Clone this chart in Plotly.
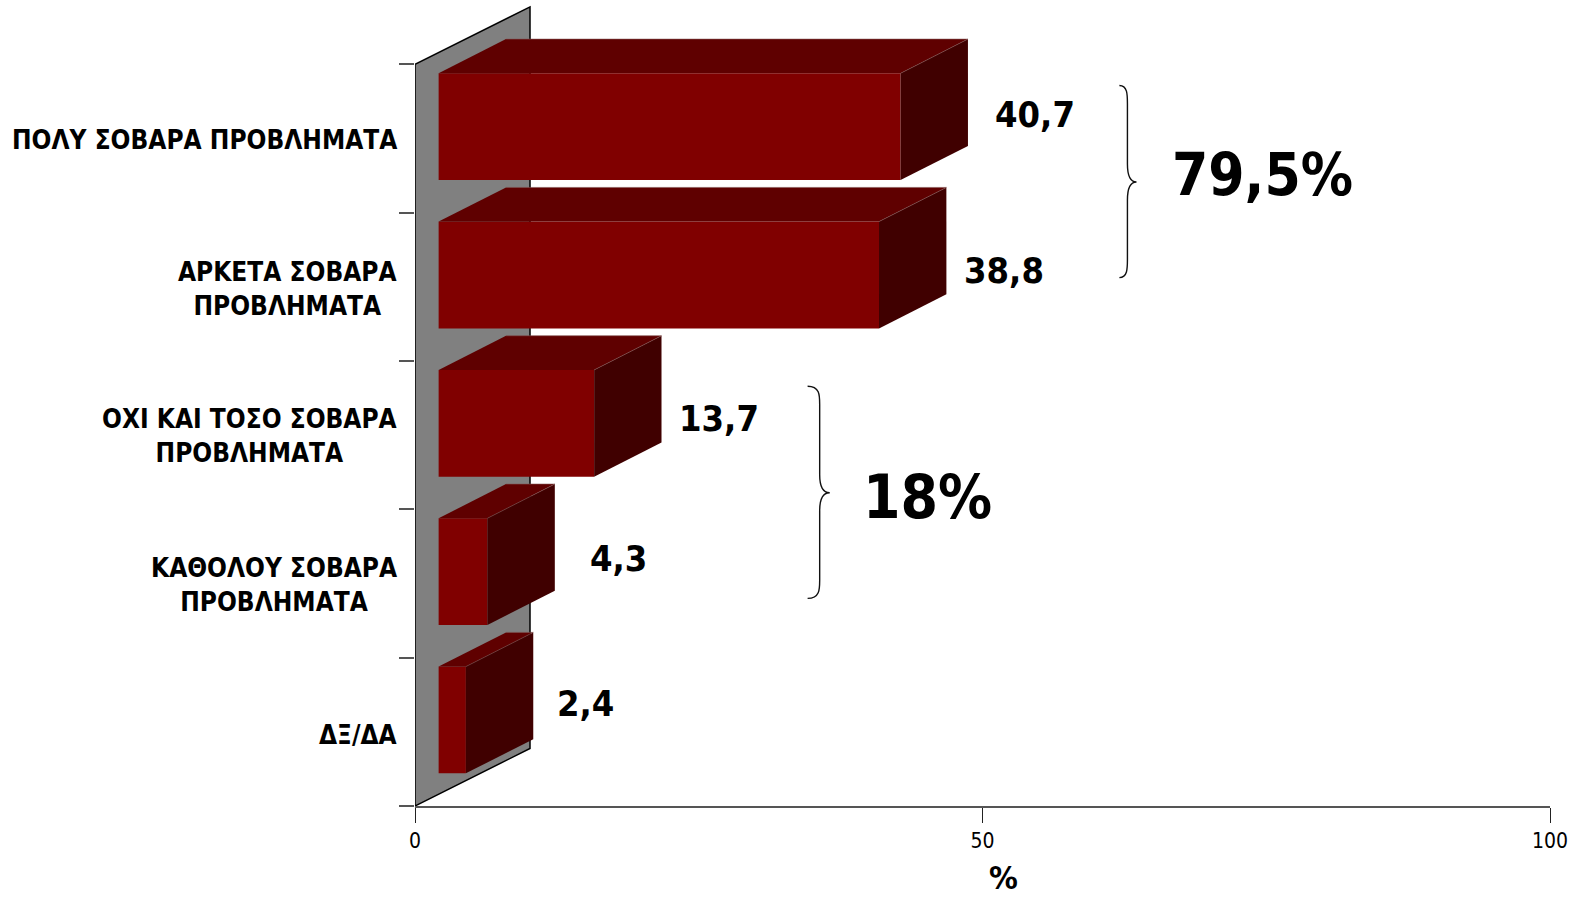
import plotly.graph_objects as go

# ---- data ----
categories = ["ΠΟΛΥ ΣΟΒΑΡΑ ΠΡΟΒΛΗΜΑΤΑ", "ΑΡΚΕΤΑ ΣΟΒΑΡΑ<br>ΠΡΟΒΛΗΜΑΤΑ", "ΟΧΙ ΚΑΙ ΤΟΣΟ ΣΟΒΑΡΑ<br>ΠΡΟΒΛΗΜΑΤΑ",
              "ΚΑΘΟΛΟΥ ΣΟΒΑΡΑ<br>ΠΡΟΒΛΗΜΑΤΑ", "ΔΞ/ΔΑ"]
values = [40.7, 38.8, 13.7, 4.3, 2.4]
value_labels = ["40,7", "38,8", "13,7", "4,3", "2,4"]
group_totals = ["79,5%", "18%"]
x_ticks = [0, 50, 100]
x_title = "%"

# ---- geometry / style ----
W, H = 1577, 897
X0, X100 = 415.0, 1550.0
Y_TOP_TICK, Y_BOTTOM = 64.4, 806.0
PLOT_TOP = 3.0
n = len(values)
band = (Y_BOTTOM - Y_TOP_TICK) / n
ux = (X100 - X0) / 100.0
y_top_range = -0.5 - (Y_TOP_TICK - PLOT_TOP) / band

def dx(p):
    return (p - X0) / ux

def dy(p):
    return -0.5 + (p - Y_TOP_TICK) / band

def paper_x(p):
    return (p - X0) / (X100 - X0)

def paper_y(p):
    return (Y_BOTTOM - p) / (Y_BOTTOM - PLOT_TOP)

S = 1577 / 1568  # reading scale of the shrunk picture

BAR_START = 23.5 * S / ux
BAR_THICK = 0.72
BAR_SHIFT = 0.08
DEPTH_X = 67 * S / ux
DEPTH_Y = 34 * S / band
WALL_X = 115 / ux
WALL_Y = 57.5 / band
FRONT, TOP, SIDE = "#800000", "#5f0000", "#400000"
EDGE = "#80504f"
BOLD = "DejaVu Sans Condensed, DejaVu Sans"

fig = go.Figure()
pos = [i - BAR_SHIFT for i in range(n)]

fig.add_trace(go.Bar(y=pos, x=values, base=[BAR_START] * n, orientation="h", width=BAR_THICK,
                     marker=dict(color=FRONT, line=dict(width=0)), showlegend=False, hoverinfo="skip"))

for v, p in zip(values, pos):
    left, right = BAR_START, BAR_START + v
    top, bottom = p - BAR_THICK / 2, p + BAR_THICK / 2
    fig.add_trace(go.Scatter(
        x=[left, right, right + DEPTH_X, left + DEPTH_X, left],
        y=[top, top, top - DEPTH_Y, top - DEPTH_Y, top],
        mode="lines", fill="toself", fillcolor=TOP, line=dict(color=TOP, width=0),
        showlegend=False, hoverinfo="skip"))
    fig.add_trace(go.Scatter(
        x=[right, right + DEPTH_X, right + DEPTH_X, right, right],
        y=[top, top - DEPTH_Y, bottom - DEPTH_Y, bottom, top],
        mode="lines", fill="toself", fillcolor=SIDE, line=dict(color=SIDE, width=0),
        showlegend=False, hoverinfo="skip"))
    fig.add_trace(go.Scatter(
        x=[left + DEPTH_X, right + DEPTH_X, right],
        y=[top - DEPTH_Y, top - DEPTH_Y, top],
        mode="lines", line=dict(color=EDGE, width=0.6),
        showlegend=False, hoverinfo="skip"))

# side wall
yt, yb = -0.5, n - 0.5
wall = f"M 0 {yb} L 0 {yt} L {WALL_X} {yt - WALL_Y} L {WALL_X} {yb - WALL_Y} Z"
shapes = [dict(type="path", path=wall, xref="x", yref="y", layer="below",
               fillcolor="#808080", line=dict(color="black", width=1.5))]

def brace(xl, xs, xt, y0, ym, y1):
    c = 9
    pts = [
        f"M {dx(xl)} {dy(y0)}",
        f"C {dx(xs)} {dy(y0)} {dx(xs)} {dy(y0 + c)} {dx(xs)} {dy(y0 + c * 2)}",
        f"L {dx(xs)} {dy(ym - c * 2)}",
        f"C {dx(xs)} {dy(ym - c)} {dx(xs + 2)} {dy(ym)} {dx(xt)} {dy(ym)}",
        f"C {dx(xs + 2)} {dy(ym)} {dx(xs)} {dy(ym + c)} {dx(xs)} {dy(ym + c * 2)}",
        f"L {dx(xs)} {dy(y1 - c * 2)}",
        f"C {dx(xs)} {dy(y1 - c)} {dx(xs)} {dy(y1)} {dx(xl)} {dy(y1)}",
    ]
    return dict(type="path", path=" ".join(pts), xref="x", yref="y",
                line=dict(color="#111111", width=1.4))

shapes.append(brace(1113 * S, 1121 * S, 1130 * S, 85 * S, 181 * S, 276 * S))
shapes.append(brace(803 * S, 815 * S, 825 * S, 384 * S, 490 * S, 595 * S))

annotations = []

def text(s, x, y, size, anchor="center"):
    annotations.append(dict(text=f"<b>{s}</b>", x=paper_x(x), y=paper_y(y), xref="paper", yref="paper",
                            xanchor=anchor, yanchor="middle", align="center", showarrow=False,
                            font=dict(family=BOLD, size=size, color="black")))

label_centers = [139, 287, 434, 582, 731]
for c, y in zip(categories, label_centers):
    text(c, 396.5 * S, y * S, 26, anchor="right")

value_centers = [(1029, 114), (998, 269), (715, 416), (615, 555), (582, 699)]
for s, (x, y) in zip(value_labels, value_centers):
    text(s, x * S, y * S, 36)

text(group_totals[0], 1255 * S, 174 * S, 58)
text(group_totals[1], 922 * S, 494 * S, 60)
text(x_title, 998 * S, 873 * S, 32)

fig.update_layout(
    width=W, height=H, margin=dict(l=X0, r=W - X100, t=PLOT_TOP, b=H - Y_BOTTOM, pad=0),
    plot_bgcolor="white", paper_bgcolor="white", showlegend=False, barmode="overlay",
    shapes=shapes, annotations=annotations,
    xaxis=dict(range=[0, 100], tickvals=x_ticks, ticks="outside", ticklen=15, tickcolor="#222222", tickwidth=1,
               showgrid=False, zeroline=False, showline=True, linecolor="#555555", linewidth=2,
               tickfont=dict(family="DejaVu Sans Condensed, DejaVu Sans", size=21, color="black")),
    yaxis=dict(range=[n - 0.5, y_top_range], tickvals=[i - 0.5 for i in range(n + 1)],
               ticktext=[""] * (n + 1), ticks="outside", ticklen=15, tickcolor="#555555", tickwidth=1.5,
               showgrid=False, zeroline=False, showline=False),
)

fig.write_html("out.html", config=dict(displayModeBar=False),
               post_script="document.body.style.margin='0';document.body.style.overflow='hidden';")
